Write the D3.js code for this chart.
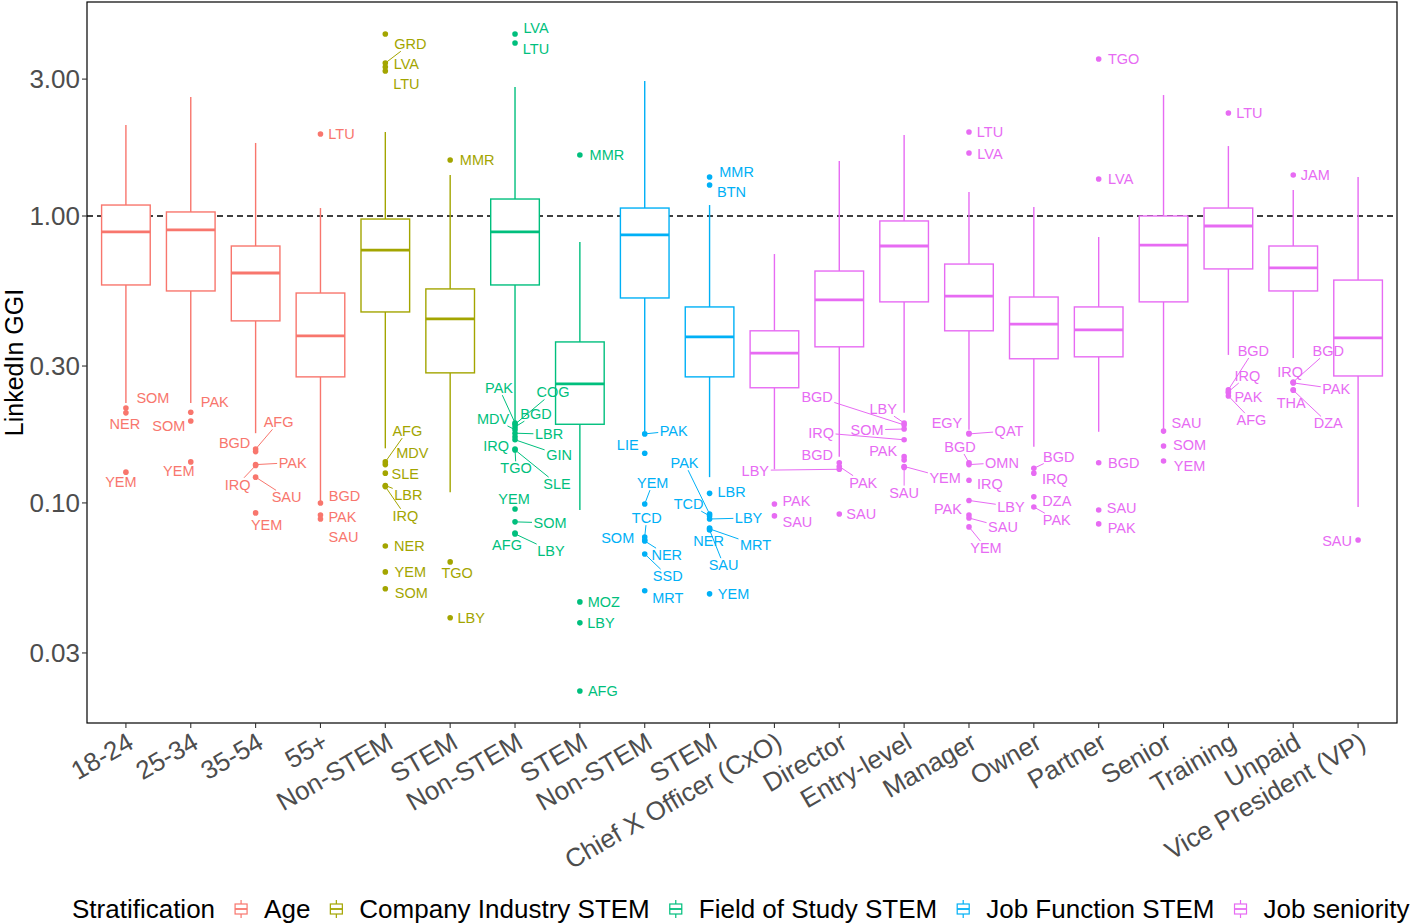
<!DOCTYPE html>
<html><head><meta charset="utf-8">
<script src="https://cdn.jsdelivr.net/npm/d3@7"></script>
<style>body{margin:0;background:#fff;} svg{display:block;font-family:"Liberation Sans",Arial,sans-serif;}</style>
</head><body><svg id="c" width="1413" height="924"></svg>
<script>
// ---------- data ----------
const categories = ["18-24","25-34","35-54","55+","Non-STEM","STEM","Non-STEM","STEM","Non-STEM","STEM",
  "Chief X Officer (CxO)","Director","Entry-level","Manager","Owner","Partner","Senior","Training","Unpaid","Vice President (VP)"];
const groups = ["Age","Company Industry STEM","Field of Study STEM","Job Function STEM","Job seniority"];
const categoryGroup = [0,0,0,0,1,1,2,2,3,3,4,4,4,4,4,4,4,4,4,4];
const whiskerHigh = [2.076,2.598,1.797,1.066,1.962,1.389,2.815,0.812,2.954,1.092,0.737,1.555,1.916,1.212,1.075,0.845,2.640,1.753,1.232,1.367];
const q3Values    = [1.092,1.033,0.786,0.539,0.976,0.557,1.146,0.364,1.066,0.482,0.398,0.643,0.961,0.680,0.522,0.482,1.000,1.066,0.786,0.598];
const medians     = [0.880,0.894,0.633,0.382,0.761,0.438,0.880,0.260,0.859,0.379,0.333,0.510,0.786,0.526,0.420,0.401,0.792,0.923,0.659,0.376];
const q1Values    = [0.575,0.548,0.431,0.275,0.463,0.284,0.575,0.188,0.518,0.275,0.252,0.350,0.502,0.398,0.318,0.323,0.502,0.654,0.548,0.277];
const whiskerLow  = [0.223,0.223,0.175,0.101,0.155,0.109,0.191,0.0945,0.178,0.123,0.131,0.145,0.206,0.180,0.157,0.177,0.181,0.328,0.320,0.0968];
// outliers: [category index, country code, value]
const outliers = [
 [0,"SOM",0.214],[0,"NER",0.206],[0,"YEM",0.128],
 [1,"PAK",0.207],[1,"SOM",0.193],[1,"YEM",0.139],
 [2,"AFG",0.154],[2,"BGD",0.151],[2,"PAK",0.136],[2,"IRQ",0.135],[2,"SAU",0.123],[2,"YEM",0.0923],
 [3,"LTU",1.931],[3,"BGD",0.100],[3,"PAK",0.0908],[3,"SAU",0.0879],
 [4,"",4.307],[4,"GRD",3.412],[4,"LVA",3.305],[4,"LTU",3.201],[4,"AFG",0.139],[4,"MDV",0.136],[4,"SLE",0.127],[4,"LBR",0.115],[4,"IRQ",0.114],[4,"NER",0.0708],[4,"YEM",0.0575],[4,"SOM",0.0502],
 [5,"MMR",1.567],[5,"TGO",0.0623],[5,"LBY",0.0398],
 [6,"LVA",4.307],[6,"LTU",4.006],[6,"PAK",0.190],[6,"COG",0.188],[6,"BGD",0.184],[6,"MDV",0.180],[6,"LBR",0.175],[6,"IRQ",0.170],[6,"GIN",0.166],[6,"TGO",0.154],[6,"SLE",0.153],[6,"YEM",0.0953],[6,"SOM",0.0859],[6,"AFG",0.0786],[6,"LBY",0.0780],
 [7,"MMR",1.632],[7,"MOZ",0.0452],[7,"LBY",0.0382],[7,"AFG",0.0221],
 [8,"PAK",0.174],[8,"LIE",0.149],[8,"YEM",0.0992],[8,"TCD",0.0761],[8,"SOM",0.0743],[8,"NER",0.0737],[8,"SSD",0.0664],[8,"MRT",0.0494],
 [9,"MMR",1.367],[9,"BTN",1.282],[9,"LBR",0.108],[9,"PAK",0.0915],[9,"TCD",0.0901],[9,"LBY",0.0879],[9,"NER",0.0818],[9,"MRT",0.0812],[9,"SAU",0.0805],[9,"YEM",0.0482],
 [10,"PAK",0.0992],[10,"SAU",0.0901],
 [11,"BGD",0.138],[11,"PAK",0.134],[11,"LBY",0.131],[11,"SAU",0.0915],
 [12,"LBY",0.190],[12,"BGD",0.187],[12,"SOM",0.181],[12,"IRQ",0.166],[12,"PAK",0.145],[12,"",0.141],[12,"YEM",0.134],[12,"SAU",0.133],
 [13,"LTU",1.962],[13,"LVA",1.658],[13,"EGY",0.175],[13,"QAT",0.174],[13,"BGD",0.138],[13,"OMN",0.136],[13,"IRQ",0.120],[13,"LBY",0.102],[13,"PAK",0.0908],[13,"SAU",0.0886],[13,"YEM",0.0825],
 [14,"BGD",0.132],[14,"IRQ",0.127],[14,"DZA",0.105],[14,"PAK",0.0968],
 [15,"TGO",3.524],[15,"LVA",1.346],[15,"BGD",0.138],[15,"SAU",0.0945],[15,"PAK",0.0845],
 [16,"SAU",0.178],[16,"SOM",0.158],[16,"YEM",0.140],
 [17,"LTU",2.285],[17,"BGD",0.248],[17,"IRQ",0.244],[17,"PAK",0.242],[17,"AFG",0.236],
 [18,"JAM",1.389],[18,"BGD",0.264],[18,"IRQ",0.263],[18,"PAK",0.262],[18,"THA",0.248],[18,"DZA",0.247],
 [19,"SAU",0.0743]
];
const yTickValues = [0.03,0.1,0.3,1,3];
const yTickLabels = ["0.03","0.10","0.30","1.00","3.00"];

// ---------- label layout (repel offsets in px, parallel to outliers) ----------
const labelLayout = [
 [27,-10,0],[-1,11,0],[-5,10,0],
 [24,-10,0],[-22,5,0],[-12,9,0],
 [23,-27,1],[-21,-9,0],[37,-2,1],[-18,19,1],[31,20,1],[11,12,0],
 [21,0,0],[24,-7,0],[22,2,0],[23,18,0],
 [0,0,0],[25,-19,1],[21,-3,0],[21,13,0],[22,-31,1],[27,-12,0],[20,1,0],[23,9,1],[20,29,1],[24,0,0],[25,0,0],[26,4,0],
 [27,0,0],[7,11,0],[21,0,0],
 [21,-6,0],[21,6,0],[-16,-35,1],[38,-32,1],[21,-13,1],[-22,-11,1],[34,1,1],[-19,9,0],[44,15,1],[1,19,1],[42,34,1],[-1,-10,0],[35,1,1],[-8,12,0],[36,17,1],
 [27,0,0],[24,0,0],[21,0,0],[23,0,0],
 [29,-3,1],[-17,-8,0],[8,-21,1],[2,-19,1],[-27,-2,0],[22,14,1],[23,22,1],[23,7,0],
 [27,-5,0],[22,7,0],[22,-2,0],[-25,-51,1],[-21,-12,1],[39,-1,1],[-1,13,0],[46,16,1],[14,35,1],[24,0,0],
 [22,-3,0],[23,6,0],
 [-22,-8,0],[24,16,1],[-84,1,1],[22,0,0],
 [-21,-14,1],[-87,-28,1],[-37,1,1],[-83,-7,1],[-21,-6,0],[0,0,0],[41,11,1],[0,25,1],
 [21,0,0],[21,1,0],[-22,-10,0],[40,-3,1],[-9,-16,1],[33,-2,1],[21,4,0],[42,6,1],[-21,-6,0],[34,9,1],[17,21,1],
 [25,-12,1],[21,6,0],[23,4,0],[23,13,1],
 [25,0,0],[22,0,0],[25,0,0],[23,-2,0],[23,4,0],
 [23,-8,0],[26,-1,0],[26,5,0],
 [21,0,0],[25,-39,1],[19,-16,1],[20,4,0],[23,24,1],
 [22,0,0],[35,-31,1],[-3,-11,0],[43,6,1],[-2,13,0],[35,33,1],
 [-21,1,0]
];

// ---------- chart ----------
const colors = ["#F8766D","#A3A500","#00BF7D","#00B0F6","#E76BF3"];
const P = {l:87, r:1397, t:2, b:723};
const svg = d3.select("#c");
const x = d3.scalePoint().domain(d3.range(categories.length)).range([P.l,P.r]).padding(0.6);
const y = d3.scaleLog().domain([0.0171,5.57]).range([P.b,P.t]);
const bw = x.step()*0.75;
const col = i => colors[categoryGroup[i]];

// reference line
svg.append("line").attr("x1",P.l).attr("x2",P.r).attr("y1",y(1)).attr("y2",y(1))
  .attr("stroke","#000").attr("stroke-width",1.3).attr("stroke-dasharray","6,4");

// boxes
const g = svg.append("g");
categories.forEach((c,i)=>{
  const cx = x(i), cl = col(i);
  g.append("line").attr("x1",cx).attr("x2",cx).attr("y1",y(whiskerHigh[i])).attr("y2",y(q3Values[i])).attr("stroke",cl).attr("stroke-width",1.4);
  g.append("line").attr("x1",cx).attr("x2",cx).attr("y1",y(q1Values[i])).attr("y2",y(whiskerLow[i])).attr("stroke",cl).attr("stroke-width",1.4);
  g.append("rect").attr("x",cx-bw/2).attr("width",bw).attr("y",y(q3Values[i])).attr("height",y(q1Values[i])-y(q3Values[i]))
    .attr("fill","#fff").attr("stroke",cl).attr("stroke-width",1.4);
  g.append("line").attr("x1",cx-bw/2).attr("x2",cx+bw/2).attr("y1",y(medians[i])).attr("y2",y(medians[i])).attr("stroke",cl).attr("stroke-width",2.8);
});

// outliers + labels
const lg = svg.append("g").attr("font-size",14.5);
const segG = svg.append("g");
const ptG = svg.append("g");
outliers.forEach((o,k)=>{
  const [ci,code,v] = o, cl = col(ci);
  const px = x(ci), py = y(v);
  ptG.append("circle").attr("cx",px).attr("cy",py).attr("r",2.8).attr("fill",cl);
  if(!code) return;
  const [dx,dy,seg] = labelLayout[k];
  const tx = px+dx, ty = py+dy;
  const t = lg.append("text").attr("x",tx).attr("y",ty).attr("dy","0.36em").attr("text-anchor","middle").attr("fill",cl).text(code);
  if(seg){
    const b = t.node().getBBox();
    const x0=b.x-1.5,x1=b.x+b.width+1.5,y0=b.y+1,y1=b.y+b.height-1;
    const ddx=tx-px, ddy=ty-py;
    let te=0;
    if(ddx!==0){const a=(x0-px)/ddx,c=(x1-px)/ddx; te=Math.max(te,Math.min(a,c));}
    if(ddy!==0){const a=(y0-py)/ddy,c=(y1-py)/ddy; te=Math.max(te,Math.min(a,c));}
    const ex=px+te*ddx, ey=py+te*ddy;
    if(Math.hypot(ex-px,ey-py)>4)
      segG.append("line").attr("x1",px).attr("y1",py).attr("x2",ex).attr("y2",ey).attr("stroke",cl).attr("stroke-width",1);
  }
});

// panel border
svg.append("rect").attr("x",P.l).attr("y",P.t).attr("width",P.r-P.l).attr("height",P.b-P.t)
  .attr("fill","none").attr("stroke","#000").attr("stroke-width",1.2);

// y axis
yTickValues.forEach((v,i)=>{
  svg.append("line").attr("x1",P.l-5).attr("x2",P.l).attr("y1",y(v)).attr("y2",y(v)).attr("stroke","#333").attr("stroke-width",1.1);
  svg.append("text").attr("x",P.l-7).attr("y",y(v)).attr("dy","0.36em").attr("text-anchor","end")
    .attr("font-size",26).attr("fill","#4D4D4D").text(yTickLabels[i]);
});
svg.append("text").attr("transform",`translate(23,${(P.t+P.b)/2}) rotate(-90)`).attr("text-anchor","middle")
  .attr("font-size",25).attr("fill","#000").text("LinkedIn GGI");

// x axis
categories.forEach((c,i)=>{
  svg.append("line").attr("x1",x(i)).attr("x2",x(i)).attr("y1",P.b).attr("y2",P.b+5).attr("stroke","#333").attr("stroke-width",1.1);
  svg.append("text").attr("transform",`translate(${x(i)},${P.b+8}) rotate(-30)`).attr("text-anchor","end").attr("dy","0.72em")
    .attr("font-size",26).attr("fill","#4D4D4D").text(c);
});

// legend
const leg = svg.append("g").attr("font-size",26);
let lx = 72; const ly = 909;
const title = leg.append("text").attr("x",lx).attr("y",ly).attr("dy","0.36em").attr("fill","#000").text("Stratification");
lx += title.node().getComputedTextLength();
groups.forEach((gname,i)=>{
  const kx = lx+26, cl = colors[i];
  leg.append("line").attr("x1",kx).attr("x2",kx).attr("y1",ly-9).attr("y2",ly+9).attr("stroke",cl).attr("stroke-width",1.2);
  leg.append("rect").attr("x",kx-6).attr("y",ly-5).attr("width",12).attr("height",10).attr("fill","#fff").attr("stroke",cl).attr("stroke-width",1.2);
  leg.append("line").attr("x1",kx-6).attr("x2",kx+6).attr("y1",ly).attr("y2",ly).attr("stroke",cl).attr("stroke-width",1.8);
  const t = leg.append("text").attr("x",kx+23).attr("y",ly).attr("dy","0.36em").attr("fill","#000").text(gname);
  lx = kx + 23 + t.node().getComputedTextLength();
});
</script></body></html>
